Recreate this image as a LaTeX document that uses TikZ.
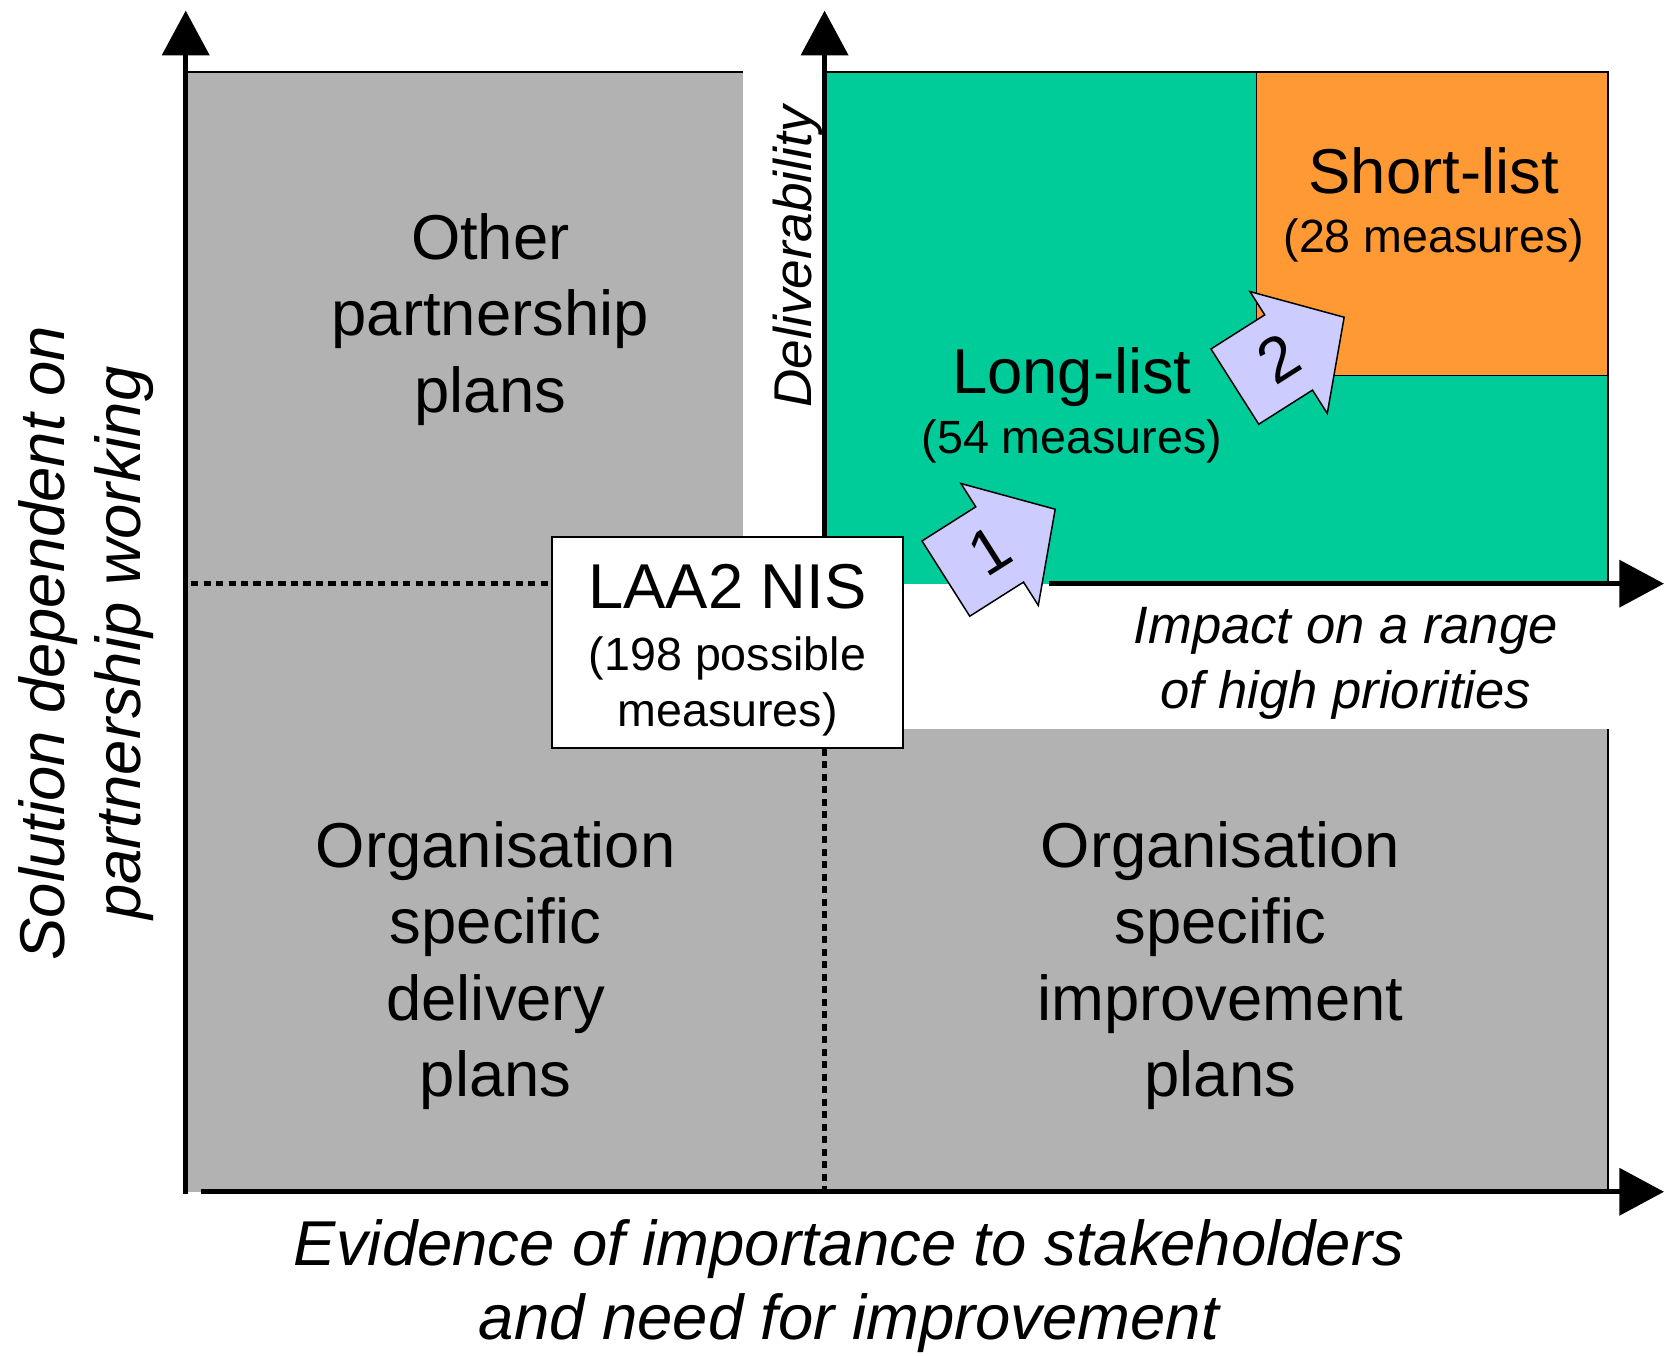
\documentclass[tikz,border=0pt]{standalone}
\usepackage{fontspec}
\setmainfont{Liberation Sans}
\usetikzlibrary{arrows.meta}
\definecolor{qgreen}{RGB}{0,204,153}
\definecolor{qorange}{RGB}{255,153,51}
\definecolor{qgray}{RGB}{178,178,178}
\definecolor{qlav}{RGB}{204,204,255}
\begin{document}
\begin{tikzpicture}[x=0.02cm,y=-0.02cm,
  axis/.style={line width=2.85pt,-{Triangle[length=24pt,width=25pt]}},
  dotline/.style={line width=2.6pt,dash pattern=on 3.8pt off 2.9pt},
  thinedge/.style={line width=0.8pt},
  bigtxt/.style={font=\fontsize{34}{41}\selectfont,align=center,inner sep=0pt},
  subtxt/.style={font=\fontsize{25}{30}\selectfont,align=center,inner sep=0pt},
  axlabel/.style={font=\itshape\fontsize{34}{40}\selectfont,align=center,inner sep=0pt},
  smalllabel/.style={font=\itshape\fontsize{28.2}{34.7}\selectfont,align=center,inner sep=0pt},
  blockarrow/.style={fill=qlav,draw=black,line width=0.8pt,line join=miter},
  num/.style={font=\fontsize{34}{34}\selectfont,inner sep=0pt},
]
\useasboundingbox (0,0) rectangle (1568,1277);

% quadrants
\fill[qgray] (175,68) -- (700,68) -- (700,550) -- (851,550) -- (851,687) -- (1515,687) -- (1515,1123) -- (175,1123) -- cycle;
\draw[thinedge] (175,68) -- (700,68);
\draw[thinedge] (1515,687) -- (1515,1123);
\fill[qgreen] (777,68) rectangle (1515,550);
\draw[thinedge] (777,68) -- (1515,68) -- (1515,550);
\filldraw[fill=qorange,draw=black,thinedge] (1184,68) rectangle (1515,354);

% axes
\coordinate (O) at (175,1125);
\coordinate (Ytop) at (175,10);
\coordinate (Xstart) at (189,1123);
\coordinate (Xend) at (1568,1123);
\coordinate (Dbase) at (777,550);
\coordinate (Dtop) at (777,10);
\coordinate (Istart) at (988,550);
\coordinate (Iend) at (1568,550);
\draw[axis] (O) -- (Ytop);
\draw[axis] (Xstart) -- (Xend);
\draw[axis] (Dbase) -- (Dtop);
\draw[axis] (Istart) -- (Iend);

% central box
\node[draw,fill=white,line width=0.8pt,minimum width=188.3pt,minimum height=113.2pt,subtxt] (laa) at (685.5,605.5)
  {{\fontsize{34}{34}\selectfont\rule{0pt}{32pt}LAA2 NIS}\\[3.6pt](198 possible\\measures)};

% dotted dividers
\coordinate (hdot) at (180,550);
\coordinate (vdot) at (777,1123);
\draw[dotline] (hdot) -- (hdot -| laa.west);
\draw[dotline] (vdot |- laa.south) -- (vdot);

% quadrant texts
\node[bigtxt] (other) at (462,301) {Other\\partnership\\plans};
\node[bigtxt] (orgdel) at (467,910) {Organisation\\specific\\delivery\\plans};
\node[bigtxt] (orgimp) at (1150,910) {Organisation\\specific\\improvement\\plans};
\node[subtxt] (long) at (1010,382) {{\fontsize{34}{34}\selectfont Long-list}\\[2.4pt](54 measures)};
\node[subtxt] (short) at (1351,193) {{\fontsize{34}{34}\selectfont Short-list}\\[2pt](28 measures)};

% axis labels
\node[smalllabel] (impact) at (1268,625) {Impact on a range\\of high priorities};
\node[font=\itshape\fontsize{28.5}{34}\selectfont,inner sep=0pt,rotate=90] (deliv) at (752,242) {Deliverability};
\node[axlabel] (evid) at (800,1212) {Evidence of importance to stakeholders\\and need for improvement};
\node[bigtxt,font=\itshape\fontsize{34}{41}\selectfont,rotate=90] (sol) at (81,606) {Solution dependent on\\partnership working};

% block arrows
\begin{scope}[shift={(891.3,545.2)},rotate=32.4]
  \draw[blockarrow] (0,-42) -- (60,-42) -- (60,-68) -- (122,0) -- (60,68) -- (60,42) -- (0,42) -- cycle;
  \node[num,rotate=32.4] (one) at (49,0) {1};
\end{scope}
\begin{scope}[shift={(1163.6,364.3)},rotate=32.4]
  \draw[blockarrow] (0,-42) -- (60,-42) -- (60,-68) -- (122,0) -- (60,68) -- (60,42) -- (0,42) -- cycle;
  \node[num,rotate=32.4] (two) at (49,0) {2};
\end{scope}
\end{tikzpicture}
\end{document}
